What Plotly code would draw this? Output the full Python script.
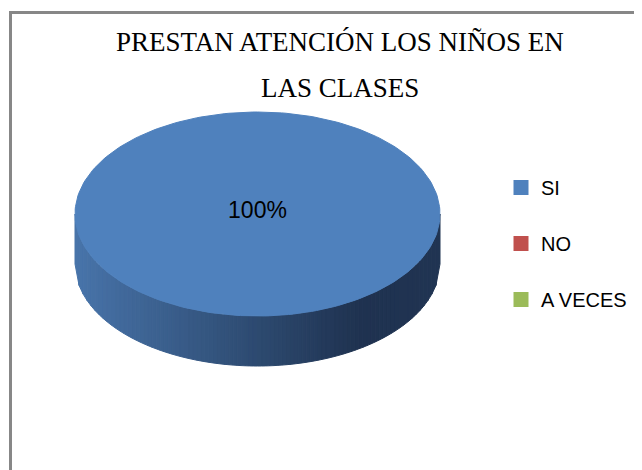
import numpy as np
import plotly.graph_objects as go

# ---- data ----
categories = ["SI", "NO", "A VECES"]
values = [100, 0, 0]
colors = ["#4f81bd", "#c0504d", "#9bbb59"]
title_lines = ["PRESTAN ATENCIÓN LOS NIÑOS EN", "LAS CLASES"]

# ---- geometry (screen pixel space; page body has an 8px offset) ----
W, H = 642, 470
OFF = 8
CX, CY = 257.5, 214.0
RX, RY = 182.5, 102.0
DEPTH = 50.0

def px_x(p):
    return (p - OFF) / W

def px_y(p):
    return 1 - (p - OFF) / H

total = float(sum(values))
fracs = [v / total for v in values]

def pt(theta_deg, dy=0.0, r=1.0):
    t = np.radians(theta_deg)
    return CX + r * RX * np.sin(t), CY - r * RY * np.cos(t) + dy

def side_color(x):
    f = (x - (CX - RX)) / (2 * RX)
    stops = [(0.0, (72, 116, 170)), (0.5, (45, 74, 112)), (0.78, (31, 50, 80)), (1.0, (32, 52, 82))]
    for (f0, c0), (f1, c1) in zip(stops[:-1], stops[1:]):
        if f <= f1:
            u = (f - f0) / (f1 - f0) if f1 > f0 else 0
            c = [int(round(a + (b - a) * u)) for a, b in zip(c0, c1)]
            return "rgb(%d,%d,%d)" % tuple(c)
    return "rgb(%d,%d,%d)" % stops[-1][1]

fig = go.Figure()

start = 0.0
slices = []
for cat, fr, col in zip(categories, fracs, colors):
    a0, a1 = start * 360.0, (start + fr) * 360.0
    slices.append((cat, fr, col, a0, a1))
    start += fr

def ytop(x):
    u = np.clip((x - CX) / RX, -1, 1)
    return CY + RY * np.sqrt(1 - u * u)

# side walls (front half: 90..270 degrees clockwise from top)
for cat, fr, col, a0, a1 in slices:
    if fr <= 0:
        continue
    lo, hi = max(a0, 90.0), min(a1, 270.0)
    if hi <= lo:
        continue
    n = 90
    xs_edges = np.linspace(CX + RX * np.sin(np.radians(hi)), CX + RX * np.sin(np.radians(lo)), n + 1)
    for i in range(n):
        xa, xb = xs_edges[i], xs_edges[i + 1]
        c = side_color(0.5 * (xa + xb))
        fig.add_trace(go.Scatter(
            x=[xa, xb, xb, xa, xa],
            y=[ytop(xa), ytop(xb), ytop(xb) + DEPTH, ytop(xa) + DEPTH, ytop(xa)],
            mode="lines", fill="toself", fillcolor=c,
            line=dict(color=c, width=1), hoverinfo="skip", showlegend=False))

# top faces
for cat, fr, col, a0, a1 in slices:
    if fr <= 0:
        continue
    th = np.linspace(a0, a1, 240)
    xs, ys = pt(th)
    if fr < 1:
        xs = np.concatenate([[CX], xs, [CX]])
        ys = np.concatenate([[CY], ys, [CY]])
    fig.add_trace(go.Scatter(
        x=xs, y=ys, mode="lines", fill="toself", fillcolor=col,
        line=dict(color=col, width=1), hoverinfo="skip", showlegend=False))

SANS = "Liberation Sans, Arial, sans-serif"

# data labels
for cat, fr, col, a0, a1 in slices:
    if fr <= 0:
        continue
    if fr >= 1:
        lx, ly = CX, CY - 2
    else:
        lx, ly = pt(0.5 * (a0 + a1), r=0.6)
    fig.add_trace(go.Scatter(
        x=[lx], y=[ly], mode="text", text=["%d%%" % round(fr * 100)],
        textfont=dict(family=SANS, size=23, color="#000000"),
        hoverinfo="skip", showlegend=False))

# legend entries
for cat, col in zip(categories, colors):
    fig.add_trace(go.Scatter(
        x=[None], y=[None], mode="markers", name=cat, legendgroup=cat,
        marker=dict(symbol="square", size=15, color=col)))

# title
for i, line in enumerate(title_lines):
    fig.add_annotation(
        x=px_x(340), y=px_y(42 + 46 * i), xref="paper", yref="paper",
        text=line, showarrow=False, xanchor="center", yanchor="middle",
        font=dict(family="Liberation Serif, Times New Roman, serif", size=27, color="#000000"))

# chart border (cropped at right and bottom)
fig.add_shape(type="rect", xref="paper", yref="paper",
              x0=px_x(10.5), x1=1.1, y0=-0.1, y1=px_y(12.5),
              line=dict(color="#878787", width=3), fillcolor="rgba(0,0,0,0)", layer="below")

fig.update_layout(
    width=W, height=H,
    margin=dict(l=0, r=0, t=0, b=0),
    paper_bgcolor="white", plot_bgcolor="white",
    xaxis=dict(range=[OFF, W + OFF], visible=False, fixedrange=True),
    yaxis=dict(range=[H + OFF, OFF], visible=False, fixedrange=True),
    showlegend=True,
    legend=dict(x=px_x(501), y=px_y(168), xanchor="left", yanchor="top",
                font=dict(family=SANS, size=20, color="#000000"),
                tracegroupgap=27, bgcolor="rgba(0,0,0,0)"),
)

fig.write_html("out.html")
